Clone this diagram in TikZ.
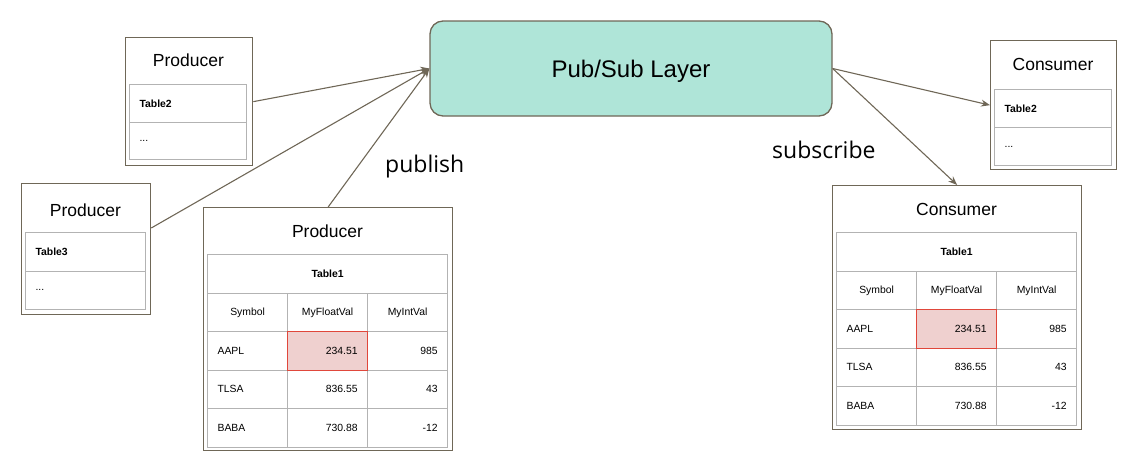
\documentclass[tikz,border=0pt]{standalone}
\usepackage{fontspec}
\setmainfont{Liberation Sans}
\newfontfamily\lblfont{Open Sans}
\usetikzlibrary{arrows.meta,calc}
\definecolor{brd}{HTML}{6F6757}
\definecolor{gridc}{HTML}{B3B3B3}
\definecolor{mint}{HTML}{AFE5D8}
\definecolor{hlfill}{HTML}{EFD0CF}
\definecolor{hlred}{HTML}{E0473B}
\tikzset{
  outer/.style={draw=brd, line width=1.3pt, fill=white, rectangle, inner sep=0pt, anchor=north west},
  cell/.style={draw=gridc, line width=1.2pt, rectangle, inner xsep=10pt, inner ysep=0pt, anchor=north west, font=\fontsize{10.4}{12}\selectfont},
  hcell/.style={cell, draw=hlred, line width=1.4pt, fill=hlfill},
  ttl/.style={font=\fontsize{17.5}{20}\selectfont, inner sep=0pt},
  lbl/.style={font=\lblfont\fontsize{23}{26}\selectfont, inner sep=0pt, anchor=base west},
  conn/.style={draw=brd, line width=1.1pt, -{Stealth[length=9pt,width=7pt]}},
}
% \tcell{name}{x}{y}{w}{h}{align}{style}{text}
\newcommand\tcell[8]{%
  \pgfmathsetmacro\tw{#4-20}%
  \node[#7, minimum width=#4pt, minimum height=#5pt, text width=\tw pt, align=#6] (#1) at (#2,#3) {#8};}
% \bigtab{prefix}{x0}{y0}
\newcommand\bigtab[3]{%
  \tcell{#1hd}{#2}{#3}{240}{38.5}{center}{cell}{\textbf{Table1}}
  \pgfmathsetmacro\ya{#3+38.5}\pgfmathsetmacro\yb{#3+77}\pgfmathsetmacro\yc{#3+115.5}\pgfmathsetmacro\yd{#3+154}%
  \pgfmathsetmacro\xb{#2+80}\pgfmathsetmacro\xc{#2+160}%
  \tcell{#1h1}{#2}{\ya}{80}{38.5}{center}{cell}{Symbol}
  \tcell{#1h2}{\xb}{\ya}{80}{38.5}{center}{cell}{MyFloatVal}
  \tcell{#1h3}{\xc}{\ya}{80}{38.5}{center}{cell}{MyIntVal}
  \tcell{#1a1}{#2}{\yb}{80}{38.5}{left}{cell}{AAPL}
  \tcell{#1a3}{\xc}{\yb}{80}{38.5}{right}{cell}{985}
  \tcell{#1b1}{#2}{\yc}{80}{38.5}{left}{cell}{TLSA}
  \tcell{#1b2}{\xb}{\yc}{80}{38.5}{right}{cell}{836.55}
  \tcell{#1b3}{\xc}{\yc}{80}{38.5}{right}{cell}{43}
  \tcell{#1c1}{#2}{\yd}{80}{38.5}{left}{cell}{BABA}
  \tcell{#1c2}{\xb}{\yd}{80}{38.5}{right}{cell}{730.88}
  \tcell{#1c3}{\xc}{\yd}{80}{38.5}{right}{cell}{-12}
  \tcell{#1a2}{\xb}{\yb}{80}{38.5}{right}{hcell}{234.51}
}
\begin{document}
\begin{tikzpicture}[x=1pt,y=-1pt]
\useasboundingbox (0,0) rectangle (1148,466);
% Pub/Sub layer
\node[draw=brd, line width=1.3pt, fill=mint, rounded corners=13pt, minimum width=402pt, minimum height=95pt,
      text depth=0pt, font=\fontsize{24}{28}\selectfont] (pubsub) at (631,68.5) {Pub/Sub Layer};
% Producer (Table2)
\node[outer, minimum width=127pt, minimum height=128pt] (p2) at (125,37) {};
\node[ttl] (p2t) at (188.5,60) {Producer};
\tcell{p2r1}{129}{84}{117}{37.5}{left}{cell}{\textbf{Table2}}
\tcell{p2r2}{129}{121.5}{117}{37.5}{left}{cell}{...}
% Producer (Table3)
\node[outer, minimum width=129pt, minimum height=131pt] (p3) at (21,183) {};
\node[ttl] (p3t) at (85.5,210) {Producer};
\tcell{p3r1}{25}{232}{120}{38.5}{left}{cell}{\textbf{Table3}}
\tcell{p3r2}{25}{270.5}{120}{38.5}{left}{cell}{...}
% Producer (Table1)
\node[outer, minimum width=249pt, minimum height=243pt] (p1) at (203,207) {};
\node[ttl] (p1t) at (327.5,231) {Producer};
\bigtab{p1}{207}{254}
% Consumer (Table2)
\node[outer, minimum width=126pt, minimum height=129pt] (c2) at (990,40) {};
\node[ttl] (c2t) at (1053,64) {Consumer};
\tcell{c2r1}{994}{89}{117}{38}{left}{cell}{\textbf{Table2}}
\tcell{c2r2}{994}{127}{117}{38}{left}{cell}{...}
% Consumer (Table1)
\node[outer, minimum width=249pt, minimum height=244pt] (c1) at (832,185) {};
\node[ttl] (c1t) at (956.5,209) {Consumer};
\bigtab{c1}{836}{232}
% connectors
\draw[conn] (p2.east) -- (pubsub.west);
\draw[conn] ($(p3.north east)!0.34!(p3.south east)$) -- (pubsub.west);
\draw[conn] (p1.north) -- (pubsub.west);
\draw[conn] (pubsub.east) -- (c2.west);
\draw[conn] (pubsub.east) -- (c1.north);
% labels
\node[lbl] (pub) at (385,172) {publish};
\node[lbl] (sub) at (772,158) {subscribe};
\end{tikzpicture}
\end{document}
